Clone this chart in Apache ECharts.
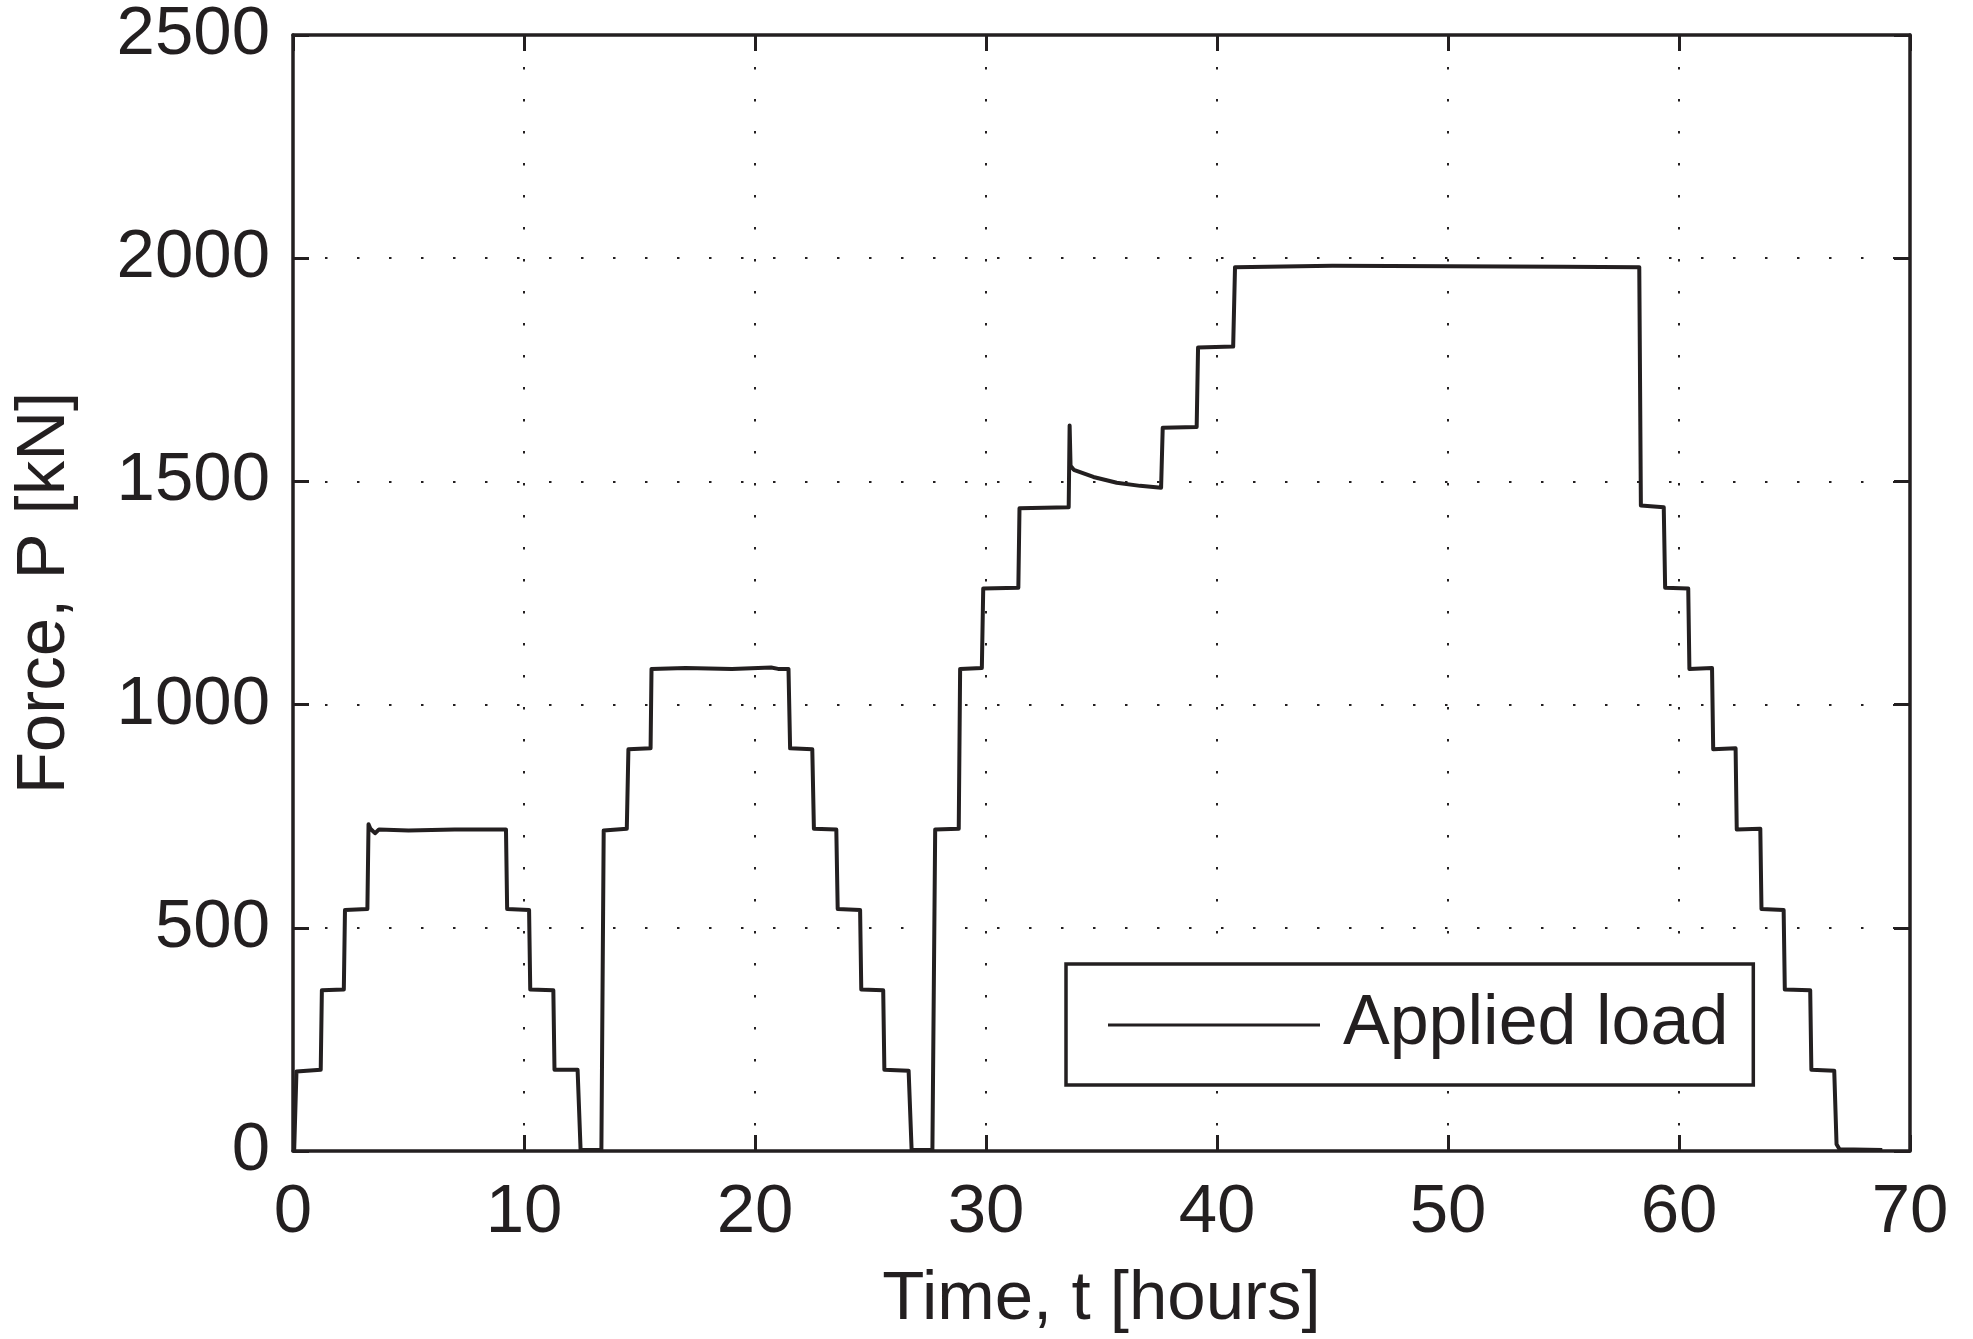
<!DOCTYPE html>
<html>
<head>
<meta charset="utf-8">
<script src="https://cdn.jsdelivr.net/npm/echarts@6/dist/echarts.min.js"></script>
<style>
  html, body { margin: 0; padding: 0; background: #ffffff; }
  #chart { width: 1973px; height: 1339px; }
</style>
</head>
<body>
<div id="chart"></div>
<script>
// Time [hours] and applied force [kN]
const timeHours = [
  0.05, 0.15, 1.20, 1.25, 2.20, 2.25, 3.22, 3.27, 3.35, 3.55, 3.72, 5.0, 7.0, 9.22,
  9.27, 10.22, 10.27, 11.27, 11.32, 12.32, 12.45, 13.35, 13.45, 14.45, 14.52, 15.48,
  15.52, 17.0, 19.0, 20.7, 21.0, 21.45, 21.52, 22.48, 22.55, 23.52, 23.58, 24.55,
  24.60, 25.55, 25.60, 26.65, 26.78, 27.68, 27.80, 28.82, 28.88, 29.82, 29.88, 31.40,
  31.45, 33.58, 33.62, 33.66, 33.80, 34.65, 35.66, 36.67, 37.58, 37.65, 39.12, 39.18,
  40.70, 40.78, 45.0, 50.0, 55.0, 58.28, 58.35, 59.34, 59.40, 60.40, 60.45, 61.43,
  61.48, 62.45, 62.50, 63.52, 63.57, 64.53, 64.58, 65.68, 65.73, 66.72, 66.82, 66.95,
  68.80
];
const forceKN = [
  0, 178, 182, 360, 362, 540, 542, 732, 722, 712, 720, 718, 720, 720,
  542, 540, 362, 360, 182, 182, 2, 2, 718, 722, 900, 902,
  1080, 1082, 1080, 1083, 1080, 1080, 902, 900, 722, 720, 542, 540,
  362, 360, 182, 180, 2, 2, 720, 722, 1080, 1082, 1260, 1262,
  1440, 1442, 1625, 1535, 1526, 1510, 1497, 1490, 1486, 1620, 1622, 1800,
  1802, 1980, 1983, 1982, 1981, 1980, 1446, 1442, 1262, 1260, 1080, 1082,
  900, 902, 720, 722, 542, 540, 362, 360, 182, 180, 15, 4,
  2
];
const xTicks = [0, 10, 20, 30, 40, 50, 60, 70];
const yTicks = [0, 500, 1000, 1500, 2000, 2500];
const seriesName = 'Applied load';
const xTitle = 'Time, t [hours]';
const yTitle = 'Force, P [kN]';

const ink = '#231f20';
const font = '"Liberation Sans", Arial, Helvetica, sans-serif';
const points = timeHours.map((t, i) => [t, forceKN[i]]);

const gridDots = { show: true, lineStyle: { color: ink, width: 2, type: [2.5, 29.5] } };
const frameLine = { show: true, onZero: false, lineStyle: { color: ink, width: 3.5 } };
const tickIn = { show: true, inside: true, length: 16, lineStyle: { color: ink, width: 3 } };
const plainNum = v => String(v);

const chart = echarts.init(document.getElementById('chart'), null, { renderer: 'canvas' });
chart.setOption({
  animation: false,
  backgroundColor: '#ffffff',
  textStyle: { fontFamily: font, color: ink },
  grid: { left: 293, right: 63, top: 35, bottom: 187, containLabel: false },
  legend: {
    show: true,
    left: 1066, top: 964,
    orient: 'horizontal',
    data: [seriesName],
    icon: 'rect',
    itemWidth: 212, itemHeight: 3,
    padding: [26, 25, 25, 42],
    borderColor: ink, borderWidth: 3.5, borderRadius: 0,
    backgroundColor: '#ffffff',
    textStyle: { fontFamily: font, fontSize: 70, color: ink, padding: [0, 0, 0, 18] },
    itemStyle: { color: ink }
  },
  xAxis: [
    {
      type: 'value', min: xTicks[0], max: xTicks[xTicks.length - 1], interval: 10,
      position: 'bottom',
      name: xTitle, nameLocation: 'middle', nameGap: 114,
      nameTextStyle: { fontFamily: font, fontSize: 69, color: ink },
      axisLine: frameLine, axisTick: tickIn,
      axisLabel: { show: true, margin: 27, fontFamily: font, fontSize: 69, color: ink, formatter: plainNum },
      splitLine: gridDots
    },
    {
      type: 'value', min: xTicks[0], max: xTicks[xTicks.length - 1], interval: 10,
      position: 'top',
      axisLine: frameLine, axisTick: tickIn,
      axisLabel: { show: false }, splitLine: { show: false }
    }
  ],
  yAxis: [
    {
      type: 'value', min: yTicks[0], max: yTicks[yTicks.length - 1], interval: 500,
      position: 'left',
      name: yTitle, nameLocation: 'middle', nameGap: 214,
      nameTextStyle: { fontFamily: font, fontSize: 69, color: ink },
      axisLine: frameLine, axisTick: tickIn,
      axisLabel: { show: true, margin: 23, fontFamily: font, fontSize: 69, color: ink, formatter: plainNum },
      splitLine: gridDots
    },
    {
      type: 'value', min: yTicks[0], max: yTicks[yTicks.length - 1], interval: 500,
      position: 'right',
      axisLine: frameLine, axisTick: tickIn,
      axisLabel: { show: false }, splitLine: { show: false }
    }
  ],
  series: [
    {
      name: seriesName,
      type: 'line',
      xAxisIndex: 0, yAxisIndex: 0,
      data: points,
      symbol: 'none', showSymbol: false,
      lineStyle: { color: ink, width: 4, join: 'round' },
      itemStyle: { color: ink },
      z: 3
    }
  ]
});
</script>
</body>
</html>
